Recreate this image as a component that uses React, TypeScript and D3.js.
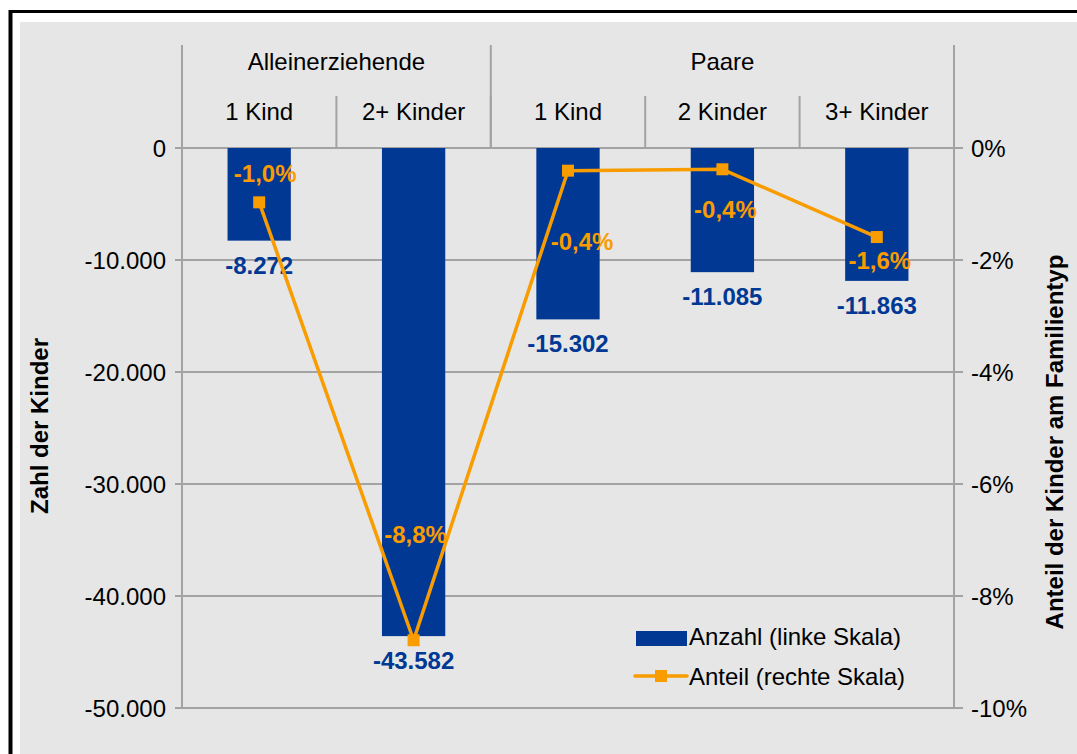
import React from "react";
import * as d3 from "d3";

const groups = ["Alleinerziehende", "Paare"];
const groupSpans = [2, 3];
const categories = ["1 Kind", "2+ Kinder", "1 Kind", "2 Kinder", "3+ Kinder"];
const counts = [-8272, -43582, -15302, -11085, -11863];
const shares = [-0.97, -8.79, -0.405, -0.38, -1.59];
const leftTicks = [0, -10000, -20000, -30000, -40000, -50000];
const rightTicks = [0, -2, -4, -6, -8, -10];
const legendLabels = ["Anzahl (linke Skala)", "Anteil (rechte Skala)"];
const leftTitle = "Zahl der Kinder";
const rightTitle = "Anteil der Kinder am Familientyp";

// label nudges (layout, not data)
const shareLabelDx = [6, 2, 14, 3, 3];
const shareLabelDy = [-20, -97, 79, 49, 32];

const W = 1077;
const H = 754;
const M = { left: 182, right: 954, top: 148, bottom: 708, headTop: 45, subTop: 96 };
const FONT = "'Liberation Sans', Arial, Helvetica, sans-serif";
const BLUE = "#003893";
const ORANGE = "#f89c00";
const GRID = "#a3a3a3";
const BG = "#e6e6e6";
const FS = 24;

const de = d3.formatLocale({ decimal: ",", thousands: ".", grouping: [3], currency: ["", "€"], minus: "-" });
const fmtNum = de.format(",.0f");
const fmtPct = de.format(".1f");

export default function App() {
  const x = d3.scaleBand<number>().domain(d3.range(categories.length)).range([M.left, M.right]).padding(0);
  const yL = d3.scaleLinear().domain([0, -50000]).range([M.top, M.bottom]);
  const yR = d3.scaleLinear().domain([0, -10]).range([M.top, M.bottom]);
  const bw = x.bandwidth() * 0.41;
  const cx = (i: number) => (x(i) as number) + x.bandwidth() / 2;

  const line = d3
    .line<number>()
    .x((_, i) => cx(i))
    .y((d) => yR(d));

  const groupBounds: { start: number; end: number; label: string }[] = [];
  let acc = 0;
  groups.forEach((g, gi) => {
    const s = acc;
    acc += groupSpans[gi];
    groupBounds.push({ start: x(s) as number, end: (x(acc - 1) as number) + x.bandwidth(), label: g });
  });

  return (
    <svg width={W} height={H} style={{ position: "absolute", left: 0, top: 0 }} fontFamily={FONT}>
      <rect x={0} y={0} width={W} height={H} fill="#ffffff" />
      <rect x={8.5} y={10} width={W} height={H} fill="#000000" />
      <rect x={12.5} y={13} width={W} height={H} fill="#ffffff" />
      <rect x={20} y={22} width={W} height={H} fill={BG} />

      {leftTicks.map((t) => (
        <line key={"g" + t} x1={M.left - 7} x2={M.right + 9} y1={yL(t)} y2={yL(t)} stroke={GRID} strokeWidth={2} />
      ))}
      <line x1={M.left} x2={M.left} y1={M.headTop} y2={M.bottom} stroke={GRID} strokeWidth={2} />
      <line x1={M.right} x2={M.right} y1={M.headTop} y2={M.bottom} stroke={GRID} strokeWidth={2} />
      {groupBounds.map((g, i) => (
        <line key={"gs" + i} x1={g.end} x2={g.end} y1={M.headTop} y2={M.top} stroke={GRID} strokeWidth={2} />
      ))}
      {categories.map((_, i) =>
        i > 0 ? (
          <line key={"cs" + i} x1={x(i) as number} x2={x(i) as number} y1={M.subTop} y2={M.top} stroke={GRID} strokeWidth={2} />
        ) : null
      )}
      {groupBounds.map((g, i) => (
        <text key={"gl" + i} x={(g.start + g.end) / 2} y={70} textAnchor="middle" fontSize={FS} fill="#000">
          {g.label}
        </text>
      ))}
      {categories.map((c, i) => (
        <text key={"cl" + i} x={cx(i)} y={120} textAnchor="middle" fontSize={FS} fill="#000">
          {c}
        </text>
      ))}

      {leftTicks.map((t) => (
        <text key={"lt" + t} x={166} y={yL(t) + 8.5} textAnchor="end" fontSize={FS} fill="#000">
          {fmtNum(t)}
        </text>
      ))}
      {rightTicks.map((t) => (
        <text key={"rt" + t} x={971} y={yR(t) + 8.5} textAnchor="start" fontSize={FS} fill="#000">
          {fmtNum(t) + "%"}
        </text>
      ))}

      <text transform={`translate(48,426) rotate(-90)`} textAnchor="middle" fontSize={FS} fontWeight="bold" fill="#000">
        {leftTitle}
      </text>
      <text transform={`translate(1063,442) rotate(-90)`} textAnchor="middle" fontSize={FS} fontWeight="bold" fill="#000">
        {rightTitle}
      </text>

      {counts.map((v, i) => (
        <rect key={"b" + i} x={cx(i) - bw / 2} y={yL(0)} width={bw} height={yL(v) - yL(0)} fill={BLUE} />
      ))}
      {counts.map((v, i) => (
        <text key={"bl" + i} x={cx(i)} y={yL(v) + 33} textAnchor="middle" fontSize={FS} fontWeight="bold" fill={BLUE}>
          {fmtNum(v)}
        </text>
      ))}

      <path d={line(shares) || ""} fill="none" stroke={ORANGE} strokeWidth={3.5} strokeLinejoin="round" />
      {shares.map((v, i) => (
        <rect key={"m" + i} x={cx(i) - 6} y={yR(v) - 6} width={12} height={12} fill={ORANGE} />
      ))}
      {shares.map((v, i) => (
        <text
          key={"sl" + i}
          x={cx(i) + shareLabelDx[i]}
          y={yR(v) + shareLabelDy[i]}
          textAnchor="middle"
          fontSize={FS}
          fontWeight="bold"
          fill={ORANGE}
        >
          {fmtPct(v) + "%"}
        </text>
      ))}

      <rect x={636} y={631} width={51} height={15} fill={BLUE} />
      <text x={689} y={645} fontSize={FS} fill="#000">
        {legendLabels[0]}
      </text>
      <line x1={635} x2={687} y1={676} y2={676} stroke={ORANGE} strokeWidth={3.5} strokeLinecap="round" />
      <rect x={655} y={670} width={12} height={12} fill={ORANGE} />
      <text x={689} y={685} fontSize={FS} fill="#000">
        {legendLabels[1]}
      </text>
    </svg>
  );
}
